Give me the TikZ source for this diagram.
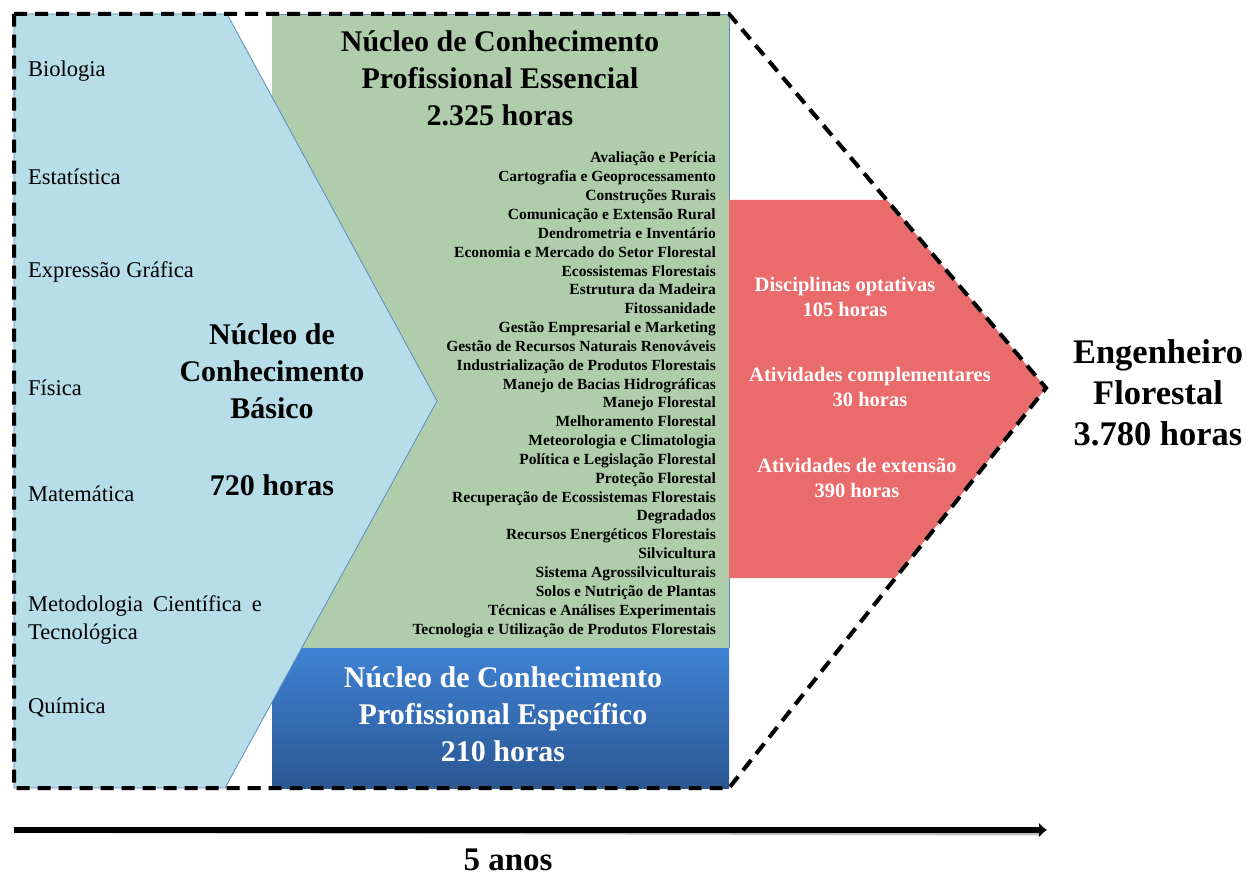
\documentclass[tikz,border=0pt]{standalone}
\usepackage{fontspec}
\setmainfont{Liberation Serif}
\usetikzlibrary{arrows.meta}
\definecolor{basico}{HTML}{B7DDE8}
\definecolor{essencial}{HTML}{AFCDAA}
\definecolor{especTop}{HTML}{3F82D4}
\definecolor{especBot}{HTML}{2A5792}
\definecolor{extra}{HTML}{E96B6B}
\definecolor{borda}{HTML}{5B8CC4}
\tikzset{
  bloco/.style={draw=borda, line width=0.8pt},
  contorno/.style={line width=4pt, dash pattern=on 13pt off 8pt},
  titulo/.style={font=\fontsize{30}{37}\selectfont\bfseries, align=center, inner sep=0pt},
  materia/.style={font=\fontsize{22.5}{28}\selectfont, anchor=base west, inner sep=0pt, align=left},
  disciplina/.style={font=\fontsize{15.5}{18}\selectfont\bfseries, anchor=base east, inner sep=0pt},
  atividade/.style={font=\fontsize{20.5}{24.5}\selectfont\bfseries, text=white, align=center, inner sep=0pt},
}

\begin{document}
\begin{tikzpicture}[x=1pt,y=-1pt]
\useasboundingbox (0,0) rectangle (1247,877);

% cantos do contorno
\coordinate (tl) at (14,14);
\coordinate (tr) at (729,14);
\coordinate (tip) at (1046,388);
\coordinate (br) at (729,788);
\coordinate (bl) at (14,788);

% blocos
\fill[essencial] (272,14) rectangle (729,648);
\draw[bloco] (272,14) -- (729,14) -- (729,648);
\shade[top color=especTop, bottom color=especBot] (272,648) rectangle (729,788);
\fill[extra] (729,200) -- (887,200) -- (tip) -- (895,578) -- (729,578) -- cycle;
\filldraw[bloco, fill=basico] (tl) -- (227,14) -- (437,401) -- (225,788) -- (bl) -- cycle;

% contorno tracejado
\draw[contorno, black!25, shift={(1.5,2)}] (tl) -- (tr) -- (tip) -- (br) -- (bl) -- cycle;
\draw[contorno] (tl) -- (tr) -- (tip) -- (br) -- (bl) -- cycle;

% materias basicas
\node[materia] (bio) at (28,77) {Biologia};
\node[materia] (est) at (28,185) {Estatística};
\node[materia] (exp) at (28,278) {Expressão Gráfica};
\node[materia] (fis) at (28,395) {Física};
\node[materia] (mat) at (28,501) {Matemática};
\node[materia] (met) at (28,639) {Metodologia\hspace{10pt}Científica\hspace{10pt}e\\Tecnológica};
\node[materia] (qui) at (28,713) {Química};

\node[titulo] (basico) at (272,371) {Núcleo de\\Conhecimento\\Básico};
\node[titulo] (basicoh) at (272,485) {720 horas};

% nucleo essencial
\node[titulo] (essencial) at (500,78) {Núcleo de Conhecimento\\Profissional Essencial\\2.325 horas};
\foreach \disc [count=\i] in {Avaliação e Perícia, Cartografia e Geoprocessamento,
    Construções Rurais, Comunicação e Extensão Rural, Dendrometria e Inventário,
    Economia  e Mercado do Setor Florestal, Ecossistemas Florestais,
    Estrutura da Madeira, Fitossanidade, Gestão Empresarial e Marketing,
    Gestão de Recursos Naturais Renováveis, Industrialização de Produtos Florestais,
    Manejo de Bacias Hidrográficas, Manejo Florestal, Melhoramento Florestal,
    Meteorologia e Climatologia, Política e Legislação Florestal, Proteção Florestal,
    Recuperação de Ecossistemas Florestais, Degradados,
    Recursos Energéticos Florestais, Silvicultura, Sistema Agrossilviculturais,
    Solos e Nutrição de Plantas, Técnicas e Análises Experimentais,
    Tecnologia e Utilização de Produtos Florestais}
  \node[disciplina] (d\i) at (716,{144.16+18.84*\i}) {\disc};

% nucleo especifico
\node[titulo, text=white] (especifico) at (503,714) {Núcleo de Conhecimento\\Profissional Específico\\210 horas};

% atividades
\node[atividade] (optativas) at (845,297) {Disciplinas optativas\\105 horas};
\node[atividade] (complem) at (870,387) {Atividades complementares\\30 horas};
\node[atividade] (extensao) at (857,478) {Atividades de extensão\\390 horas};

\node[titulo, font=\fontsize{34.5}{41}\selectfont\bfseries] (engenheiro) at (1158,393) {Engenheiro\\Florestal\\3.780 horas};

% linha do tempo
\coordinate (t0) at (14,830);
\coordinate (t1) at (1047,830);
\draw[line width=6pt, black!25, shift={(1,2.5)}] (t0) -- (1040,830);
\draw[line width=6pt, -{Latex[length=8pt,width=15pt]}] (t0) -- (t1);
\node[titulo, font=\fontsize{33}{38}\selectfont\bfseries] (anos) at (508,860) {5 anos};

\end{tikzpicture}
\end{document}
